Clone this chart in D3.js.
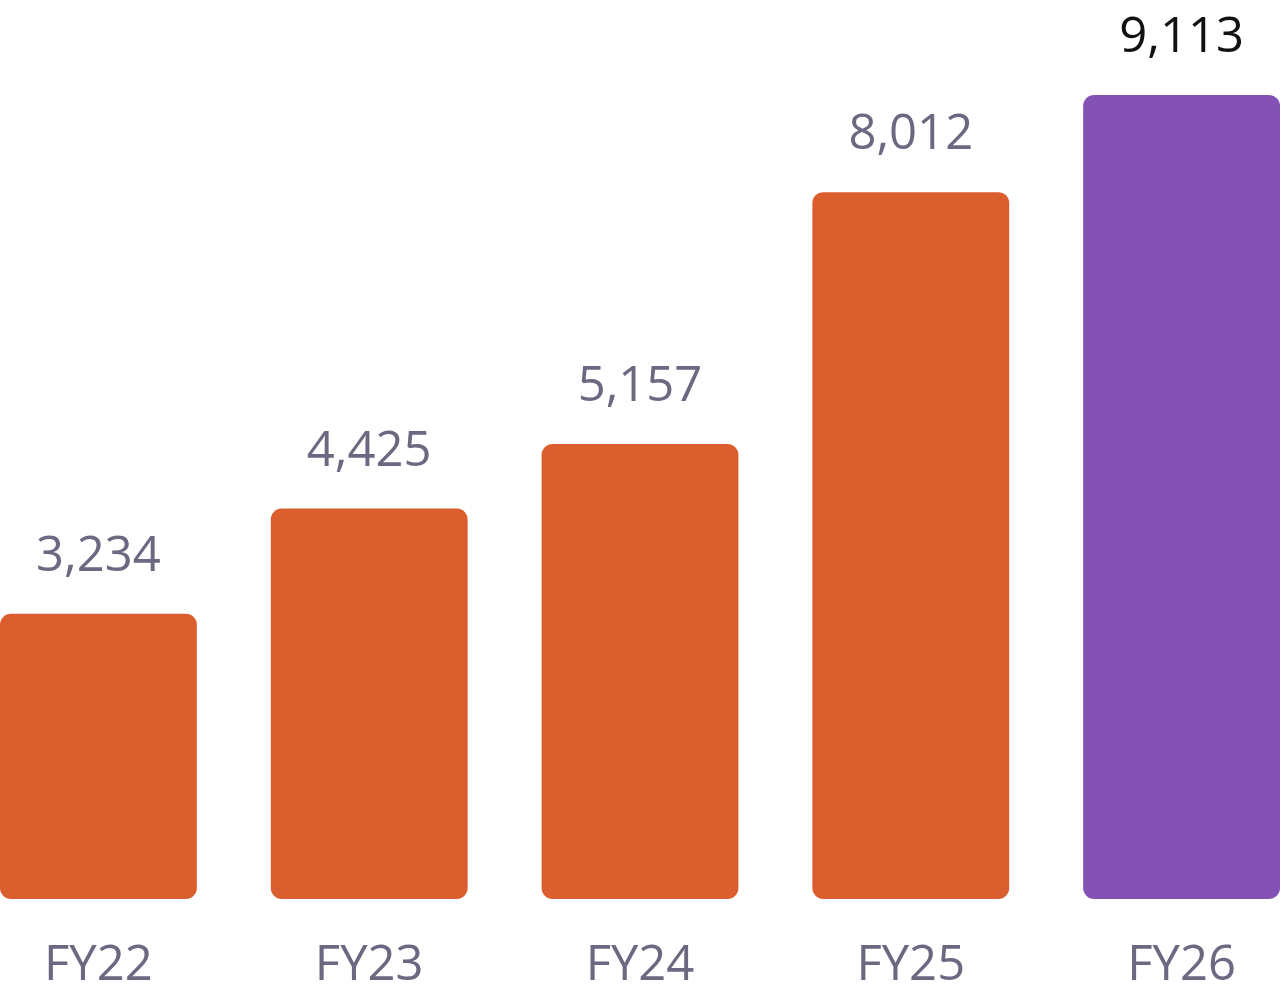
<!DOCTYPE html>
<html>
<head>
<meta charset="utf-8">
<script src="https://cdn.jsdelivr.net/npm/d3@7"></script>
<style>
  html, body { margin: 0; padding: 0; background: #ffffff; }
  svg { display: block; font-family: "Open Sans", "Noto Sans", sans-serif; }
</style>
</head>
<body>
<svg width="1280" height="995"></svg>
<script>
const years = ['FY22', 'FY23', 'FY24', 'FY25', 'FY26'];
const values = [3234, 4425, 5157, 8012, 9113];
const highlight = ['FY26'];

function whenLoaded(){

    const svg = d3.select('svg');
    const width = +svg.attr('width');

    const data = years.map((y, i) => ({year: y, value: values[i]}));

    const xScale = d3.scaleBand()
    .domain(years)
    .range([0, width])
    .paddingInner(0.273)
    .paddingOuter(0);

    const yScale = d3.scaleLinear()
    .domain([0, d3.max(values)])
    .range([899, 95]);

    const isHi = d => highlight.includes(d.year);

    svg.selectAll('rect.bar').data(data)
    .enter()
    .append('rect')
    .attr('class', 'bar')
    .attr('x', d => xScale(d.year))
    .attr('y', d => yScale(d.value))
    .attr('width', xScale.bandwidth())
    .attr('height', d => yScale(0) - yScale(d.value))
    .attr('rx', 11)
    .attr('fill', d => isHi(d) ? '#8452b4' : '#da5e2e');

    svg.selectAll('text.value').data(data)
    .enter()
    .append('text')
    .attr('class', 'value')
    .attr('x', d => xScale(d.year) + xScale.bandwidth() / 2)
    .attr('y', d => yScale(d.value) - 43)
    .attr('text-anchor', 'middle')
    .attr('font-size', 49)
    .attr('fill', d => isHi(d) ? '#111111' : '#6b6881')
    .text(d => d3.format(',')(d.value));

    const xAxis = d3.axisBottom(xScale).tickSize(0).tickPadding(0);

    const xAxisG = svg.append('g')
    .attr('transform', 'translate(0,980)')
    .call(xAxis);

    xAxisG.select('.domain').remove();
    xAxisG.selectAll('text')
    .attr('dy', 0)
    .attr('y', 0)
    .attr('font-size', 49)
    .attr('font-family', '"Open Sans", "Noto Sans", sans-serif')
    .attr('fill', '#6b6881');
}

window.onload = whenLoaded;
</script>
</body>
</html>
